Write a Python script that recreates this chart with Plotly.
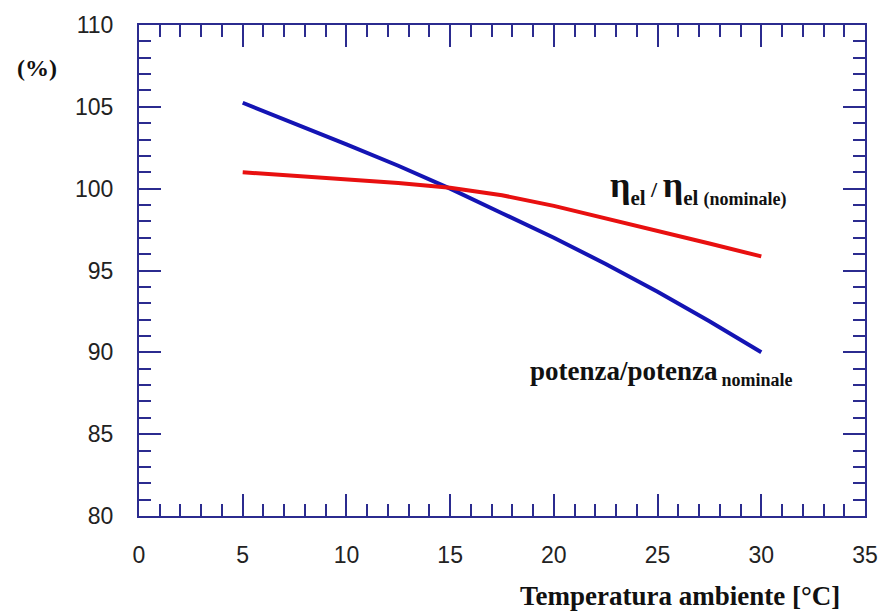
import plotly.graph_objects as go

# Ambient temperature [°C]
temperatura = [5, 7.5, 10, 12.5, 15, 17.5, 20, 22.5, 25, 27.5, 30]
# Power relative to nominal [%]
potenza_rel = [105.25, 104.0, 102.7, 101.4, 100.0, 98.5, 97.0, 95.4, 93.7, 91.9, 90.0]
# Electrical efficiency relative to nominal [%]
rendimento_rel = [101.0, 100.8, 100.6, 100.35, 100.05, 99.6, 98.95, 98.2, 97.45, 96.65, 95.86]

x_ticks = [0, 5, 10, 15, 20, 25, 30, 35]
y_ticks = [80, 85, 90, 95, 100, 105, 110]

frame = "#2b2b8f"
serif = "Liberation Serif"
sans = "Liberation Sans"

fig = go.Figure()
fig.add_trace(go.Scatter(x=temperatura, y=potenza_rel, mode="lines",
                         line=dict(color="#1414b4", width=4),
                         showlegend=False))
fig.add_trace(go.Scatter(x=temperatura, y=rendimento_rel, mode="lines",
                         line=dict(color="#e81010", width=4),
                         showlegend=False))

axis_common = dict(
    showgrid=False, zeroline=False, automargin=False,
    showline=True, linecolor=frame, linewidth=2, mirror="ticks",
    ticks="inside", ticklen=22, tickwidth=2, tickcolor=frame,
    tickfont=dict(family=sans, size=23, color="#222222"),
)

fig.update_xaxes(range=[0, 35], tickvals=x_ticks, ticklabelstandoff=17,
                 minor=dict(dtick=1, ticks="inside", ticklen=12, tickwidth=2, tickcolor=frame),
                 **axis_common)
fig.update_yaxes(range=[80, 110], tickvals=y_ticks, ticklabelstandoff=19,
                 minor=dict(dtick=1, ticks="inside", ticklen=12, tickwidth=2, tickcolor=frame),
                 **axis_common)

annotations = [
    dict(text="<b>Temperatura ambiente [°C]</b>", x=0.968, y=-0.128, xref="paper", yref="paper",
         xanchor="right", yanchor="top", showarrow=False,
         font=dict(family=serif, size=27, color="#111111")),
    dict(text="<b>(%)</b>", x=-0.141, y=0.913, xref="paper", yref="paper",
         xanchor="center", yanchor="middle", showarrow=False,
         font=dict(family=serif, size=24, color="#111111")),
    dict(text="<b>η<sub><span style='font-size:21px'>el</span></sub>"
              "<span style='font-size:22px'> / </span>"
              "η<sub><span style='font-size:21px'>el </span>"
              "<span style='font-size:18px'>(nominale)</span></sub></b>",
         x=22.6, y=98.6, xanchor="left", yanchor="bottom", showarrow=False,
         font=dict(family=serif, size=36, color="#111111")),
    dict(text="<b>potenza/potenza<span style='font-size:16px'> </span>"
              "<sub><span style='font-size:18px'>nominale</span></sub></b>",
         x=18.75, y=87.6, xanchor="left", yanchor="bottom", showarrow=False,
         font=dict(family=serif, size=27, color="#111111")),
]

fig.update_layout(
    width=882, height=614, autosize=False,
    margin=dict(l=139, r=17, t=25, b=98),
    paper_bgcolor="white", plot_bgcolor="white",
    annotations=annotations,
)

fig.write_html("out.html")
